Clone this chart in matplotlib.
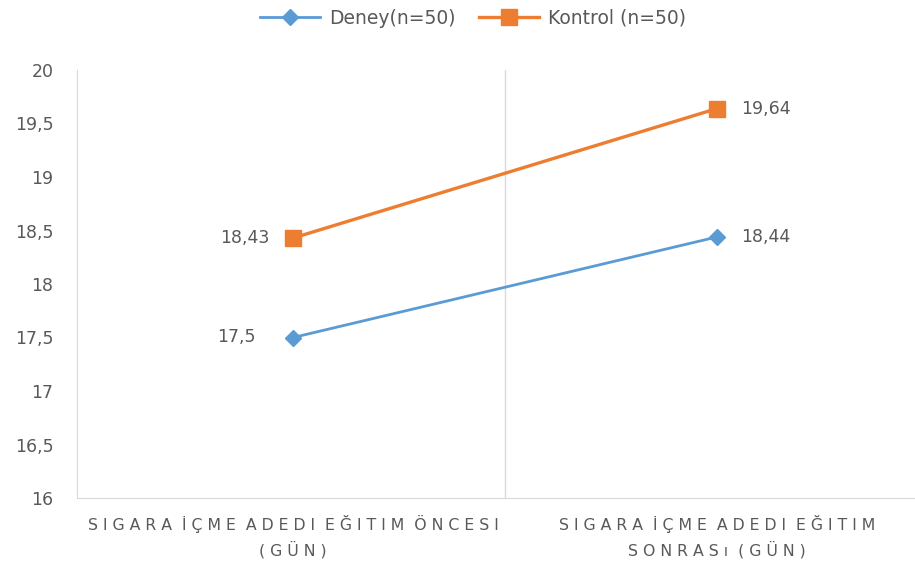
import matplotlib
matplotlib.use("Agg")
import matplotlib.pyplot as plt
from matplotlib.ticker import FuncFormatter

# ── data ──────────────────────────────────────────────────────────────────────
categories = ["SIGARA İÇME ADEDI EĞITIM ÖNCESI\n(GÜN)",
              "SIGARA İÇME ADEDI EĞITIM\nSONRASı (GÜN)"]
deney      = [17.50, 18.44]
kontrol    = [18.43, 19.64]
deney_lbl  = ["17,5", "18,44"]
kontrol_lbl = ["18,43", "19,64"]
yticks     = [16, 16.5, 17, 17.5, 18, 18.5, 19, 19.5, 20]

BLUE, ORANGE, GREY = "#5B9BD5", "#ED7D31", "#595959"
plt.rcParams["font.family"] = ["DejaVu Sans"]


def spaced(s):
    # tracked-out category labels: one space between letters, two between words
    return "\n".join("  ".join(" ".join(w) for w in line.split(" "))
                     for line in s.split("\n"))


fig = plt.figure(figsize=(9.15, 5.64), dpi=100)
ax = fig.add_axes([77 / 915, 1 - 498 / 564, 838 / 915, 428 / 564])

xs = [0, 1]
ax.plot(xs, deney, color=BLUE, lw=2.0, marker="D", ms=8.5, label="Deney(n=50)", zorder=3)
ax.plot(xs, kontrol, color=ORANGE, lw=2.4, marker="s", ms=11.5, label="Kontrol (n=50)", zorder=3)

# value labels: left of first point, right of second
for series, labels, left_off in ((deney, deney_lbl, -27), (kontrol, kontrol_lbl, -17)):
    ax.annotate(labels[0], (xs[0], series[0]), xytext=(left_off, 0), textcoords="offset points",
                ha="right", va="center", fontsize=12.5, color=GREY)
    ax.annotate(labels[1], (xs[1], series[1]), xytext=(17, 0), textcoords="offset points",
                ha="left", va="center", fontsize=12.5, color=GREY)

ax.axvline(0.5, color="#D9D9D9", lw=1, zorder=1)

ax.set_xlim(-0.51, 1.467)
ax.set_ylim(16, 20)
ax.set_yticks(yticks)
ax.yaxis.set_major_formatter(FuncFormatter(lambda v, _: f"{v:g}".replace(".", ",")))
ax.set_xticks(xs)
ax.set_xticklabels([spaced(c) for c in categories], fontsize=11.3, color=GREY,
                   linespacing=1.5)
ax.tick_params(axis="y", length=0, labelsize=12.5, labelcolor=GREY, pad=17)
ax.tick_params(axis="x", length=0, pad=12.5)

for side in ("top", "right"):
    ax.spines[side].set_visible(False)
ax.spines["left"].set_color("#D9D9D9")
ax.spines["bottom"].set_color("#D9D9D9")

fig.legend(loc="center", bbox_to_anchor=(0.517, 1 - 18 / 564), ncol=2, frameon=False,
           fontsize=13.5, labelcolor=GREY, handlelength=3.2, columnspacing=1.2,
           handletextpad=0.5, borderpad=0)

fig.savefig("out.png", dpi=100)
